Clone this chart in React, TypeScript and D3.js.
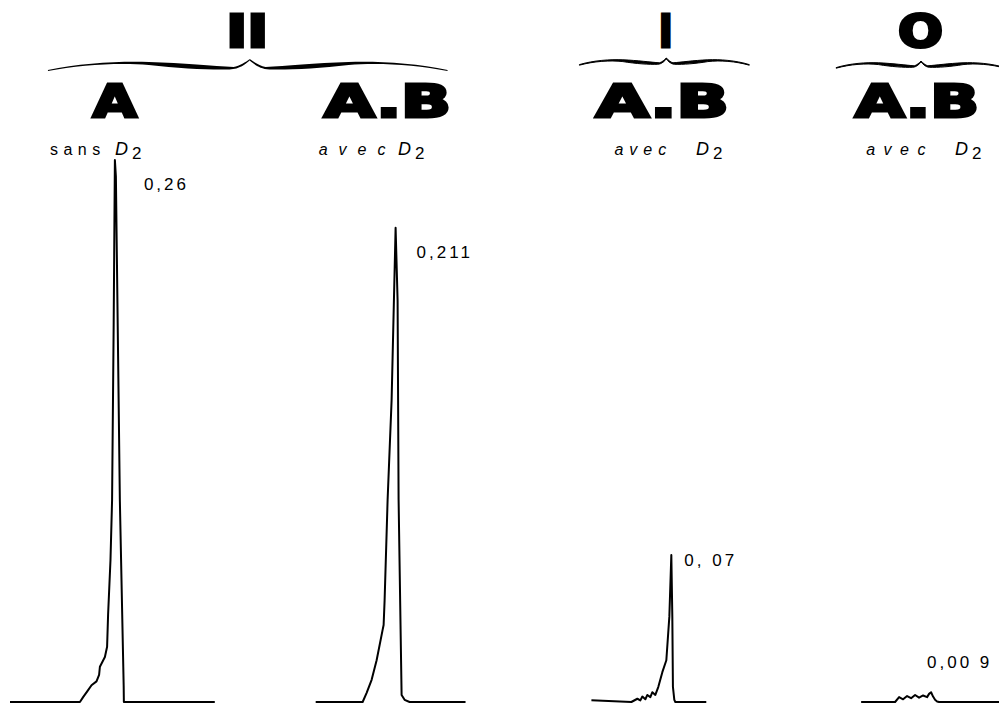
import React from 'react';
import * as d3 from 'd3';

// chart recorder traces: [time from apex (s), deflection (divisions)]
const traceA: [number, number][] = [
  [-52.5, 0], [-17.5, 0], [-15.9, 0.9], [-13.4, 2.2], [-11.7, 3.1], [-9.2, 3.8], [-7.9, 5.0],
  [-7.5, 6.5], [-5, 8.3], [-3.9, 10.2], [-3.4, 16.1], [-2.2, 26.2], [-1.4, 37.3], [-0.6, 70],
  [0, 100], [0.5, 97], [2.5, 37], [4.4, 3], [4.5, 0], [50, 0],
];
const traceAB: [number, number][] = [
  [-40, 0], [-16.5, 0], [-14.5, 1.7], [-12, 4.1], [-9.5, 7.7], [-6.5, 13.3], [-6, 14.2],
  [-5.5, 18.8], [-4, 37.3], [-2, 55.7], [0, 87.5], [1, 74], [1.5, 37.3], [3, 1.3], [4.5, 0.4],
  [7, 0], [35, 0],
];
const traceI: [number, number][] = [
  [-40, 0.3], [-20, 0], [-17, 0.6], [-15.5, 0.3], [-14.5, 1.0], [-13, 0.5], [-12, 1.3],
  [-10.5, 0.9], [-9.5, 1.8], [-8, 1.3], [-6.5, 2.8], [-4.5, 5.5], [-2.5, 7.7], [-1, 15.7],
  [0, 27.1], [0.5, 15.7], [0.8, 2.8], [1.5, 0.4], [2, 0], [17.5, 0],
];
const traceO: [number, number][] = [
  [-35, 0], [-18, 0], [-16, 0.9], [-14, 0.5], [-12, 1.1], [-10, 0.7], [-8, 1.3], [-6, 0.8],
  [-4, 1.2], [-2, 0.9], [-1, 1.5], [0, 1.8], [1, 1.0], [2, 0.4], [3, 0.1], [4, 0], [34, 0],
];

const panelNames = ['A', 'A.B', 'A.B', 'A.B'];
const panelApex = [57.5, 198, 336, 466]; // s
const panelNameAt = [57.5, 194, 331.5, 459];
const panelNameWidth = [44, 127, 133, 124];
const panelGas = ['sans', 'avec', 'avec', 'avec'];
const panelGasAt = [25, 159.5, 307.5, 433.5];
const panelGasSpacing = [5.5, 11, 6, 8.5];
const panelDAt = [57.5, 199.2, 348.3, 478];
const peakLabels = ['0,26', '0,211', '0, 07', '0,00 9'];
const peakLabelOffset = [[29, 30], [21, 30], [13, 11], [-4, -24]];
const traces = [traceA, traceAB, traceI, traceO];

const groupLabels = ['II', 'I', 'O'];
const groupFrom = [24, 290, 418.5];
const groupTo = [224, 375, 503];
const groupTip = [125, 333.5, 461];
const groupTipY = [59, 58, 61];
const groupDepth = [1, 0.6, 0.6];
const groupStroke = [0, 1, 1];
const groupLabelWidth = [42, 14, 45];
const groupLabelShift = [-2.5, -0.5, -0.5];

const xScale = d3.scaleLinear().domain([0, 500]).range([0, 999]);
const yScale = d3.scaleLinear().domain([0, 100]).range([702, 160]);

const TOP = [[0, 11], [0.16, 4], [0.36, 2], [0.5, 3], [0.67, 4], [0.82, 7], [0.92, 8], [0.95, 7], [0.98, 3], [1, 0]];
const BOT = [[1, 1.5], [0.98, 5], [0.95, 10], [0.9, 10.5], [0.8, 11], [0.65, 9.5], [0.5, 6], [0.36, 3.5], [0.16, 5.5], [0, 12]];

function halfBrace(xEnd: number, xTip: number, yTip: number, k: number) {
  const p = (u: number, dy: number) => `${xEnd + u * (xTip - xEnd)},${yTip + dy * k}`;
  const seg = (pts: number[][]) =>
    pts.map((q, i) => (i === 0 ? '' : (i - 1) % 3 === 0 ? ' C' : ' ') + p(q[0], q[1])).join('');
  return 'M' + seg(TOP) + ' L' + seg(BOT) + ' Z';
}

const heavy = { font: '900 45px "DejaVu Sans", sans-serif' };
const small = '"Liberation Sans", Arial, sans-serif';

export default function App() {
  const line = d3.line<[number, number]>().curve(d3.curveLinear);
  return (
    <svg width={999} height={704} style={{ position: 'absolute', left: 0, top: 0, background: '#fff' }}>
      {/* accolades + numéros */}
      {groupLabels.map((g, i) => {
        const x0 = xScale(groupFrom[i]), x1 = xScale(groupTo[i]), xm = xScale(groupTip[i]);
        return (
          <g key={'g' + i}>
            <path d={halfBrace(x0, xm, groupTipY[i], groupDepth[i])} fill="#000"
              stroke="#000" strokeWidth={groupStroke[i]} />
            <path d={halfBrace(x1, xm, groupTipY[i], groupDepth[i])} fill="#000"
              stroke="#000" strokeWidth={groupStroke[i]} />
            <text x={xm + groupLabelShift[i] - groupLabelWidth[i] / 2} y={47}
              textLength={groupLabelWidth[i]} lengthAdjust="spacingAndGlyphs" style={heavy}
              fill="#000" stroke="#000" strokeWidth={3}>{g}</text>
          </g>
        );
      })}
      {traces.map((tr, i) => {
        const t0 = panelApex[i];
        const pts = tr.map(d => [xScale(t0 + d[0]), yScale(d[1])] as [number, number]);
        const top = pts.reduce((a, b) => (b[1] < a[1] ? b : a));
        const nx = xScale(panelNameAt[i]);
        return (
          <g key={'p' + i}>
            <text x={nx - panelNameWidth[i] / 2} y={117}
              textLength={panelNameWidth[i]} lengthAdjust="spacingAndGlyphs" style={heavy}
              fill="#000" stroke="#000" strokeWidth={3}>{panelNames[i]}</text>
            <text x={xScale(panelGasAt[i])} y={155}
              style={{
                fontFamily: small, fontSize: 16, fontStyle: i === 0 ? 'normal' : 'italic',
                letterSpacing: `${panelGasSpacing[i]}px`,
              }} fill="#000">
              {panelGas[i]}
            </text>
            <text x={xScale(panelDAt[i])} y={155} style={{ fontFamily: small, fontSize: 16 }} fill="#000">
              <tspan style={{ fontStyle: 'italic', fontSize: 18 }}>D</tspan>
              <tspan dx={4} dy={4} style={{ fontSize: 17 }}>2</tspan>
            </text>
            <path d={line(pts) || ''} fill="none" stroke="#000" strokeWidth={2} strokeLinejoin="round" />
            <text x={top[0] + peakLabelOffset[i][0]} y={top[1] + peakLabelOffset[i][1]}
              style={{ font: `17px ${small}`, letterSpacing: '3px' }}
              fill="#000">{peakLabels[i]}</text>
          </g>
        );
      })}
    </svg>
  );
}
